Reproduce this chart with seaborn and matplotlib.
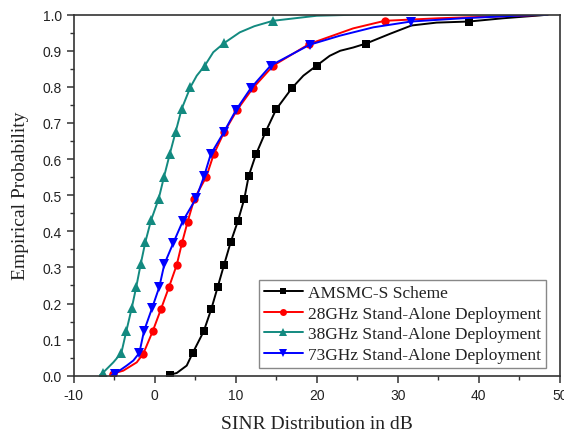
import matplotlib
matplotlib.use("Agg")
import matplotlib.pyplot as plt
from matplotlib.lines import Line2D
from matplotlib.ticker import MultipleLocator, FormatStrFormatter
import seaborn as sns

# SINR (dB) / empirical CDF points
amsmc_x = [1.89, 2.72, 3.95, 4.69, 6.05, 6.99, 7.78, 8.56, 9.38, 10.28, 11.06, 11.6, 12.5,
           13.7, 15.0, 16.95, 18.35, 20.0, 21.6, 22.9, 24.5, 26.09, 29.05, 31.7, 34.8,
           38.8, 43.0, 47.6, 48.5]
amsmc_y = [0.003, 0.0075, 0.028, 0.063, 0.123, 0.185, 0.246, 0.307, 0.37, 0.429, 0.49, 0.553,
           0.613, 0.676, 0.738, 0.797, 0.831, 0.859, 0.886, 0.90, 0.909, 0.92, 0.947, 0.97,
           0.978, 0.981, 0.99, 0.998, 1.0]
amsmc_mark = [0, 3, 4, 5, 6, 7, 8, 9, 10, 11, 12, 13, 14, 15, 17, 21, 25]

ghz28_x = [-5.5, -5.19, -3.88, -2.22, -1.41, -0.25, 0.78, 1.77, 2.72, 3.37, 4.07, 4.89, 6.37,
           7.28, 8.56, 10.2, 12.1, 14.64, 19.1, 24.5, 28.4, 35.0, 42.0, 47.6, 48.5]
ghz28_y = [0.002, 0.0055, 0.014, 0.037, 0.061, 0.123, 0.185, 0.246, 0.307, 0.368, 0.427, 0.49,
           0.551, 0.613, 0.674, 0.737, 0.796, 0.859, 0.919, 0.962, 0.983, 0.99, 0.995, 0.999, 1.0]
ghz28_mark = [1, 4, 5, 6, 7, 8, 9, 10, 11, 12, 13, 14, 15, 16, 17, 18, 20]

ghz38_x = [-6.75, -6.42, -5.11, -4.12, -3.5, -2.84, -2.27, -1.73, -1.16, -0.46, 0.49, 1.15,
           1.85, 2.59, 3.33, 4.4, 5.19, 6.19, 7.23, 8.55, 10.5, 12.3, 14.6, 20.0, 25.0, 48.5]
ghz38_y = [0.002, 0.0075, 0.037, 0.063, 0.124, 0.187, 0.247, 0.309, 0.37, 0.43, 0.49, 0.551,
           0.613, 0.676, 0.739, 0.799, 0.831, 0.859, 0.896, 0.921, 0.951, 0.968, 0.983, 0.997,
           1.0, 1.0]
ghz38_mark = [1, 3, 4, 5, 6, 7, 8, 9, 10, 11, 12, 13, 14, 15, 17, 19, 22]

ghz73_x = [-5.3, -4.9, -3.46, -2.64, -1.9, -1.32, -0.33, 0.57, 1.19, 2.3, 3.46, 5.1, 6.09,
           6.91, 8.52, 10.04, 11.85, 14.32, 19.17, 22.9, 27.0, 31.64, 38.0, 44.7, 48.5]
ghz73_y = [0.002, 0.0055, 0.028, 0.042, 0.063, 0.124, 0.187, 0.246, 0.309, 0.368, 0.428, 0.491,
           0.552, 0.613, 0.674, 0.736, 0.796, 0.859, 0.917, 0.942, 0.965, 0.981, 0.99, 0.997, 1.0]
ghz73_mark = [1, 4, 5, 6, 7, 8, 9, 10, 11, 12, 13, 14, 15, 16, 17, 18, 21]

labels = ["AMSMC-S Scheme", "28GHz Stand-Alone Deployment",
          "38GHz Stand-Alone Deployment", "73GHz Stand-Alone Deployment"]


def main():
    sns.set_theme(style="ticks")
    plt.rcParams["font.family"] = ["Liberation Sans", "DejaVu Sans"]
    plt.rcParams["axes.unicode_minus"] = False

    fig = plt.figure(figsize=(5.64, 4.35), dpi=100)
    ax = fig.add_axes([0.1307, 0.134, 0.8617, 0.830])

    # (x, y, marker idx, colour, marker, marker size)
    series = [
        (amsmc_x, amsmc_y, amsmc_mark, "black", "s", 5.5),
        (ghz28_x, ghz28_y, ghz28_mark, "#ff0000", "o", 6.0),
        (ghz38_x, ghz38_y, ghz38_mark, "#138a80", "^", 6.5),
        (ghz73_x, ghz73_y, ghz73_mark, "#0000ff", "v", 6.5),
    ]

    handles = []
    for (xs, ys, mk, col, m, ms), lab in zip(series, labels):
        sns.lineplot(x=xs, y=ys, ax=ax, color=col, marker=m, markevery=mk,
                     markersize=ms, markeredgewidth=0, linewidth=1.4,
                     estimator=None, sort=False)
        handles.append(Line2D([], [], color=col, marker=m, markersize=ms - 1,
                              markeredgewidth=0, linewidth=1.4, label=lab))

    ax.set_xlim(-10, 50)
    ax.set_ylim(0, 1.0)
    ax.xaxis.set_major_locator(MultipleLocator(10))
    ax.xaxis.set_minor_locator(MultipleLocator(5))
    ax.yaxis.set_major_locator(MultipleLocator(0.1))
    ax.yaxis.set_minor_locator(MultipleLocator(0.05))
    ax.yaxis.set_major_formatter(FormatStrFormatter("%.1f"))

    for sp in ax.spines.values():
        sp.set_color("#333333")
        sp.set_linewidth(1.2)
    ax.tick_params(which="major", direction="out", length=5, width=1.1,
                   color="#333333", labelsize=10, labelcolor="#222222")
    ax.tick_params(which="minor", direction="out", length=3, width=1.0, color="#333333")

    ax.set_xlabel("SINR Distribution in dB", family="Liberation Serif", fontsize=14,
                  color="#222222", labelpad=10)
    ax.set_ylabel("Empirical Probability", family="Liberation Serif", fontsize=14,
                  color="#222222", labelpad=10)

    leg = ax.legend(handles=handles, loc="lower right", bbox_to_anchor=(0.972, 0.021),
                    borderaxespad=0, frameon=True, fancybox=False, framealpha=1,
                    edgecolor="#888888", handlelength=2.2, handletextpad=0.3,
                    labelspacing=0.25, borderpad=0.3,
                    prop={"family": "Liberation Serif", "size": 12.5})
    leg.get_frame().set_linewidth(1.0)
    for t in leg.get_texts():
        t.set_color("#222222")

    fig.savefig("out.png", dpi=100)
    plt.close(fig)


if __name__ == "__main__":
    main()
